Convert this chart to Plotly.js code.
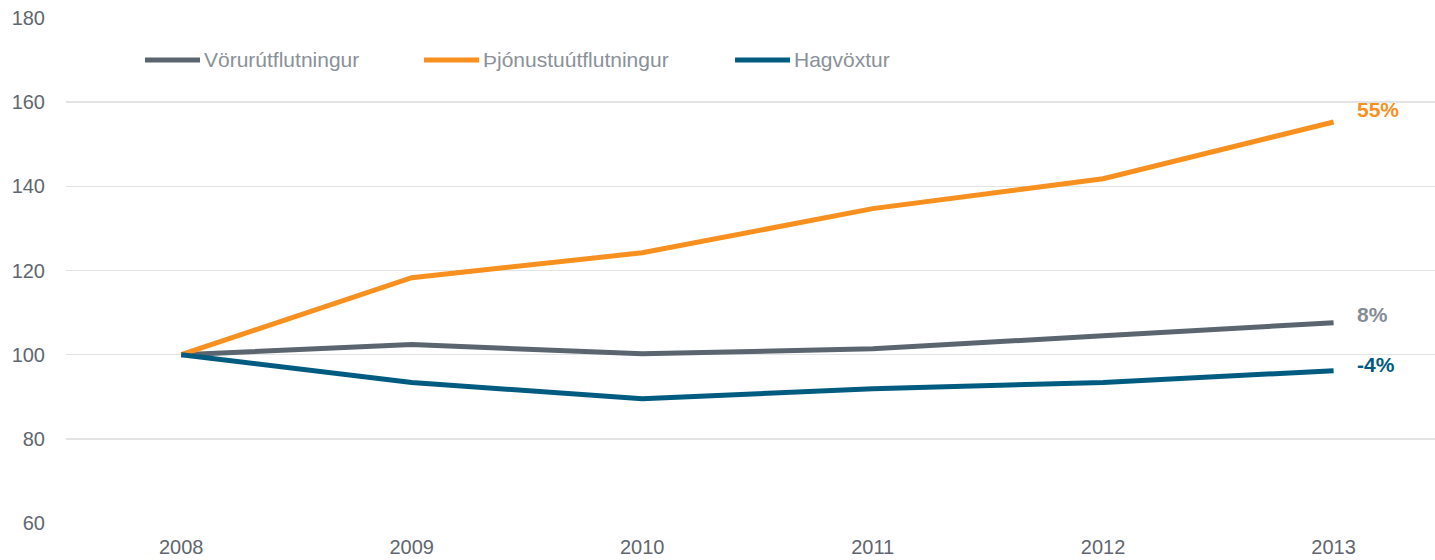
<!DOCTYPE html>
<html><head><meta charset="utf-8">
<script src="https://cdn.plot.ly/plotly-3.0.1.min.js"></script>
<style>html,body{margin:0;padding:0;background:#fff}#chart{width:1435px;height:560px}</style>
</head><body><div id="chart"></div>
<script>
const years = ["2008","2009","2010","2011","2012","2013"];
const voruutflutningur = [100, 102.4, 100.2, 101.4, 104.5, 107.6];
const thjonustuutflutningur = [100, 118.3, 124.2, 134.7, 141.8, 155.3];
const hagvoxtur = [100, 93.4, 89.5, 91.9, 93.4, 96.2];
const seriesNames = ["Vörurútflutningur", "Þjónustuútflutningur", "Hagvöxtur"];
const yTicks = [60, 80, 100, 120, 140, 160, 180];

const colors = ["#5b6570", "#f7901e", "#005b80"];
const labelColors = ["#848c95", "#f7901e", "#005b80"];
const labelShift = [8, 12, 6];
const allSeries = [voruutflutningur, thjonustuutflutningur, hagvoxtur];
const FONT = 'Liberation Sans, Arial, sans-serif';

const traces = allSeries.map((s, i) => ({
  type: 'scatter', mode: 'lines', x: years, y: s, name: seriesNames[i],
  line: {color: colors[i], width: 5}, hoverinfo: 'skip', showlegend: false
}));

const annotations = allSeries.map((s, i) => {
  const last = s[s.length - 1];
  return {
    x: years.length - 1, y: last, xref: 'x', yref: 'y',
    text: '<b>' + Math.round(last - 100) + '%</b>', showarrow: false,
    xanchor: 'left', yanchor: 'middle', xshift: 21, yshift: labelShift[i],
    font: {family: FONT, size: 21, color: labelColors[i]}
  };
});

// manual legend (paper coordinates)
const legendLineX = [[0.0577, 0.0979], [0.2615, 0.3017], [0.4887, 0.5289]];
const legendY = 0.917;
const shapes = legendLineX.map((lx, i) => ({
  type: 'line', xref: 'paper', yref: 'paper', x0: lx[0], x1: lx[1], y0: legendY, y1: legendY,
  line: {color: colors[i], width: 5}
}));
legendLineX.forEach((lx, i) => annotations.push({
  x: lx[1], y: legendY, xref: 'paper', yref: 'paper', text: seriesNames[i], showarrow: false,
  xanchor: 'left', yanchor: 'middle', xshift: 2,
  font: {family: FONT, size: 21, color: '#8a9199'}
}));

const layout = {
  width: 1435, height: 560,
  margin: {l: 66, r: 0, t: 18, b: 37},
  paper_bgcolor: '#fff', plot_bgcolor: '#fff',
  font: {family: FONT, size: 20, color: '#5f6670'},
  showlegend: false,
  xaxis: {type: 'category', range: [-0.5, 5.44], showgrid: false, zeroline: false, showline: false,
    ticks: 'outside', ticklen: 6, tickcolor: 'rgba(0,0,0,0)', tickfont: {family: FONT, size: 20, color: '#5f6670'}},
  yaxis: {range: [60, 180], tickvals: yTicks, showgrid: true, gridcolor: '#e3e3e3', gridwidth: 1.5,
    zeroline: false, showline: false, ticks: 'outside', ticklen: 16, tickcolor: 'rgba(0,0,0,0)',
    tickfont: {family: FONT, size: 20, color: '#5f6670'}},
  shapes: shapes,
  annotations: annotations
};

try {
  Plotly.newPlot('chart', traces, layout, {displayModeBar: false, staticPlot: true});
} catch (e) { document.body.insertAdjacentHTML('beforeend', '<pre>' + e + '</pre>'); }
</script></body></html>
